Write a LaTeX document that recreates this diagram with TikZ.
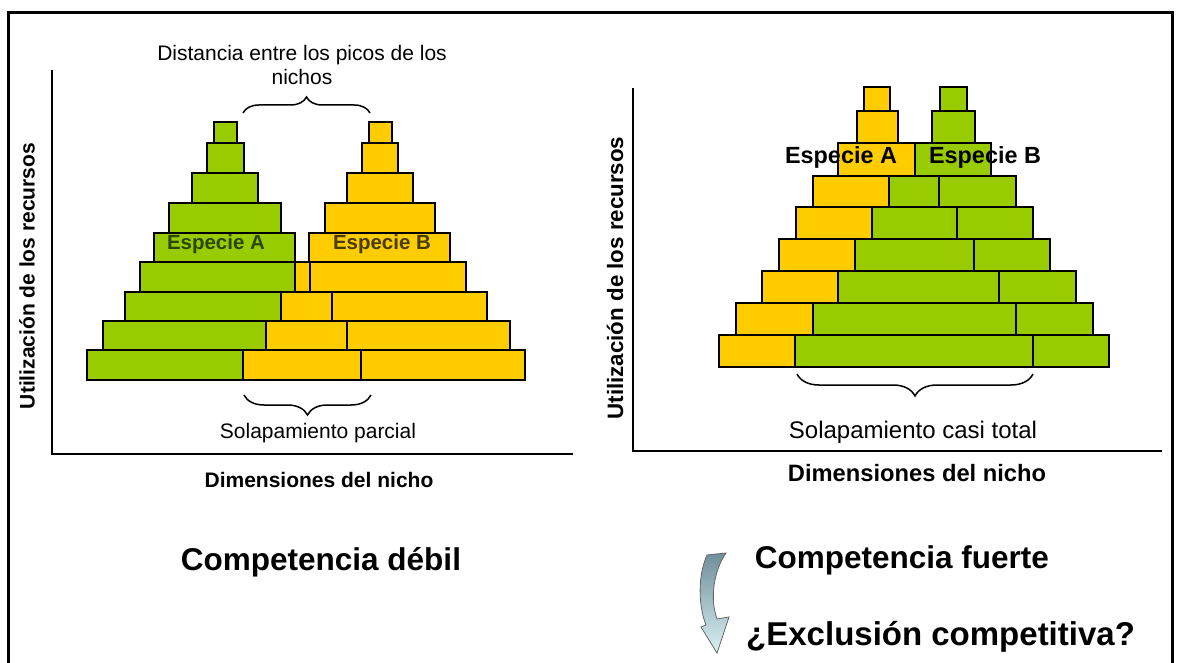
\documentclass[tikz,border=0pt]{standalone}
\usepackage{fontspec}
\setmainfont{Liberation Sans}
\usepackage{xcolor}
\usepackage{tikz}
\usetikzlibrary{decorations.pathreplacing}

\definecolor{verde}{HTML}{99CC00}
\definecolor{amarillo}{HTML}{FFCC00}
\definecolor{textoA}{HTML}{2C4606}
\definecolor{textoB}{HTML}{473C06}
\definecolor{flechaosc}{HTML}{6F8F9A}
\definecolor{flechacla}{HTML}{D8F0F3}

\begin{document}
\begin{tikzpicture}[x=1pt, y=-1pt,
  gbox/.style={fill=verde, draw=black, line width=1.4pt},
  ybox/.style={fill=amarillo, draw=black, line width=1.4pt},
  borde/.style={draw=black, line width=1.4pt},
  eje/.style={line width=2.4pt},
  llave/.style={decorate, decoration={brace, amplitude=#1}, line width=1.5pt},
  txt/.style={font=\fontsize{#1}{#1}\selectfont, inner sep=0pt},
  txtb/.style={font=\fontsize{#1}{#1}\selectfont\bfseries, inner sep=0pt}]

\useasboundingbox (0,0) rectangle (1179,663);
\clip (0,0) rectangle (1179,663);
\fill[white] (0,0) rectangle (1179,663);

% marco
\draw[line width=3pt] (8,680) -- (8,13) -- (1172,13) -- (1172,680);

% ---- competencia debil ----
\draw[eje] (52,70) -- (52,454) -- (573,454);

% especie A (verde) y especie B (amarillo)
\filldraw[gbox] (87,350) rectangle (361,380);
\filldraw[ybox] (243,350) rectangle (525,380);
\draw[borde] (87,350) rectangle (361,380);
\filldraw[gbox] (103,321) rectangle (347,350);
\filldraw[ybox] (266,321) rectangle (510,350);
\draw[borde] (103,321) rectangle (347,350);
\filldraw[gbox] (125,292) rectangle (332,321);
\filldraw[ybox] (281,292) rectangle (487,321);
\draw[borde] (125,292) rectangle (332,321);
\filldraw[gbox] (140,262) rectangle (310,292);
\filldraw[ybox] (295,262) rectangle (466,292);
\draw[borde] (140,262) rectangle (310,292);
\filldraw[gbox] (154,233) rectangle (295,262);
\filldraw[ybox] (309,233) rectangle (450,262);
\filldraw[gbox] (169,203) rectangle (281,233);
\filldraw[ybox] (325,203) rectangle (435,233);
\filldraw[gbox] (192,173) rectangle (258,203);
\filldraw[ybox] (347,173) rectangle (413,203);
\filldraw[gbox] (207,143) rectangle (244,173);
\filldraw[ybox] (362,143) rectangle (398,173);
\filldraw[gbox] (214,122) rectangle (237,143);
\filldraw[ybox] (369,122) rectangle (392,143);

\node[txtb=20.5, text=textoA] (espA1) at (216,244) {Especie A};
\node[txtb=20.5, text=textoB] (espB1) at (382,244) {Especie B};

\node[txt=21, align=center, font=\fontsize{21}{24}\selectfont] (dist) at (302,65)
  {Distancia entre los picos de los\\nichos};
\draw[llave=16] (243,113) -- (370,113);
\draw[llave=20] (371,395) -- (244,395);
\node[txt=21] (solap1) at (318,433) {Solapamiento parcial};

\node[txtb=21] (dim1) at (319,480) {Dimensiones del nicho};
\node[txtb=21, rotate=90] (util1) at (27,276) {Utilización de los recursos};
\node[txtb=31.5] (debil) at (321,562) {Competencia débil};

% ---- competencia fuerte ----
\draw[eje] (633,88) -- (633,451) -- (1162,451);

% especie A (amarillo) y especie B (verde)
\filldraw[ybox] (719,335) rectangle (1033,367);
\filldraw[gbox] (795,335) rectangle (1109,367);
\draw[borde] (719,335) rectangle (1033,367);
\filldraw[ybox] (736,303) rectangle (1016,335);
\filldraw[gbox] (813,303) rectangle (1093,335);
\draw[borde] (736,303) rectangle (1016,335);
\filldraw[ybox] (762,271) rectangle (999,303);
\filldraw[gbox] (838,271) rectangle (1076,303);
\draw[borde] (762,271) rectangle (999,303);
\filldraw[ybox] (779,239) rectangle (974,271);
\filldraw[gbox] (855,239) rectangle (1050,271);
\draw[borde] (779,239) rectangle (974,271);
\filldraw[ybox] (796,207) rectangle (957,239);
\filldraw[gbox] (872,207) rectangle (1033,239);
\draw[borde] (796,207) rectangle (957,239);
\filldraw[ybox] (813,176) rectangle (939,207);
\filldraw[gbox] (889,176) rectangle (1016,207);
\draw[borde] (813,176) rectangle (939,207);
\filldraw[ybox] (838,143) rectangle (915,176);
\filldraw[gbox] (915,143) rectangle (991,176);
\filldraw[ybox] (857,111) rectangle (898,143);
\filldraw[gbox] (932,111) rectangle (975,143);
\filldraw[ybox] (864,87) rectangle (890,111);
\filldraw[gbox] (940,87) rectangle (967,111);

\node[txtb=23.4] (espA2) at (841,157) {Especie A};
\node[txtb=23.4] (espB2) at (985,157) {Especie B};

\draw[llave=22] (1033,374) -- (797,374);
\node[txt=24] (solap2) at (913,432) {Solapamiento casi total};

\node[txtb=23.7] (dim2) at (917,473) {Dimensiones del nicho};
\node[txtb=22.3, rotate=90] (util2) at (615,278) {Utilización de los recursos};
\node[txtb=31.5] (fuerte) at (902,560) {Competencia fuerte};
\node[txtb=33, anchor=west] (exclu) at (746,637) {¿Exclusión competitiva?};

% flecha curva
\shade[top color=flechaosc, bottom color=flechacla, draw=black!60, line width=0.8pt]
  (707,555) -- (726,553) .. controls (713,572) and (710,600) .. (717,619)
  -- (729,617) -- (717,653) -- (701,627) -- (706,625)
  .. controls (698,605) and (698,575) .. (707,555) -- cycle;

\end{tikzpicture}
\end{document}
